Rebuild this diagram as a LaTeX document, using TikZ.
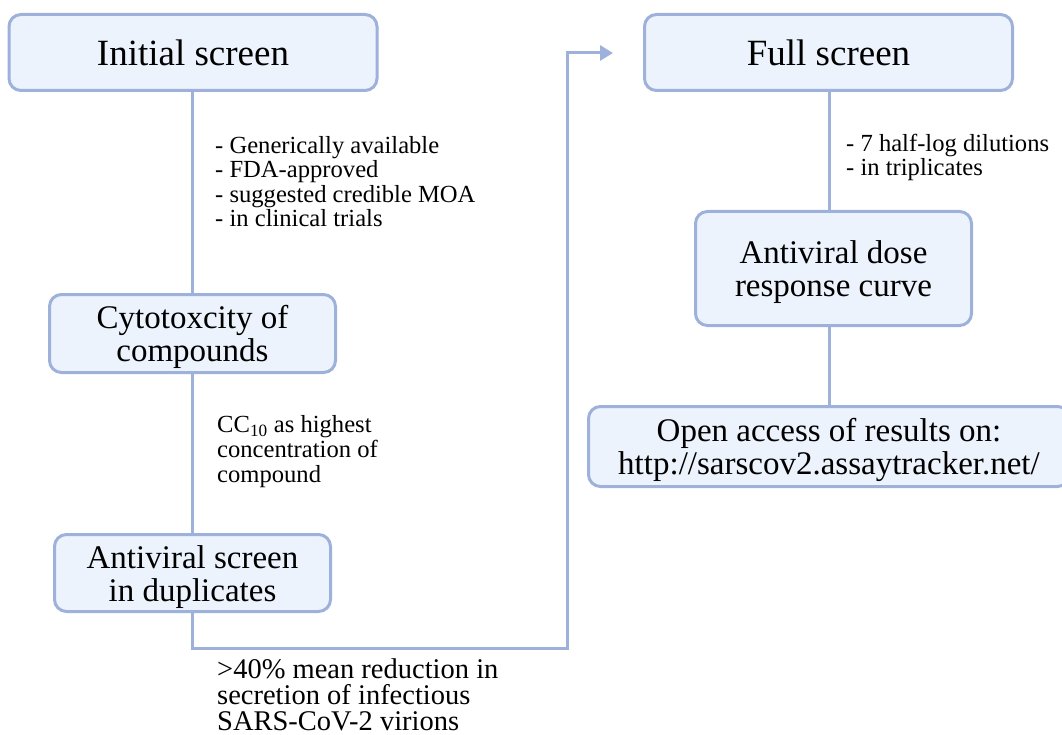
\documentclass[tikz,border=0pt]{standalone}
\usepackage{fontspec}
\setmainfont{Liberation Serif}
\usetikzlibrary{arrows.meta}
\definecolor{edge}{HTML}{9DB1DB}
\definecolor{boxfill}{HTML}{ECF3FC}
\tikzset{
  box/.style={draw=edge, fill=boxfill, line width=3pt, rounded corners=12pt,
    align=center, inner sep=0pt},
  twoline/.style={text height=63pt, text depth=6.6pt},
  conn/.style={draw=edge, line width=3pt},
  note/.style={align=left, inner sep=0pt, anchor=base west},
}
\newcommand{\fs}[2]{\fontsize{#1}{#2}\selectfont}
\begin{document}
\begin{tikzpicture}[x=1pt,y=-1pt]
\useasboundingbox (0,0) rectangle (1062,735);
\node[box, minimum width=368pt, minimum height=76pt, font=\fs{37}{37}] (init) at (193,52.5) {Initial screen};
\node[box, minimum width=368pt, minimum height=76pt, font=\fs{37}{37}] (full) at (828.5,52.5) {Full screen};
\node[box, twoline, minimum width=286pt, minimum height=78pt, font=\fs{33}{33}] (cyto) at (192.5,333.5) {Cytotoxcity of\\compounds};
\node[box, twoline, minimum width=276pt, minimum height=77pt, font=\fs{33}{33}] (avs) at (192.5,573) {Antiviral screen\\in duplicates};
\node[box, twoline, minimum width=276pt, minimum height=114pt, font=\fs{33}{33}] (dose) at (833.5,268.5) {Antiviral dose\\response curve};
\node[box, twoline, minimum width=481pt, minimum height=80pt, font=\fs{33}{33}] (open) at (829,446.5) {Open access of results on:\\http://sarscov2.assaytracker.net/};

\node[note, font=\fs{24.6}{24.6}] (n1) at (215,227) {- Generically available\\- FDA-approved\\- suggested credible MOA\\- in clinical trials};
\node[note, font=\fs{24.6}{24.6}] (n2) at (217,482) {CC\textsubscript{10} as highest\\concentration of\\compound};
\node[note, font=\fs{24.6}{24.6}] (n3) at (846,176) {- 7 half-log dilutions\\- in triplicates};
\node[note, font=\fs{28.5}{26}] (n4) at (217,730) {>40\% mean reduction in\\secretion of infectious\\SARS-CoV-2 virions};

\coordinate (c1) at (567,648);
\coordinate (tip) at (613,53);
\draw[conn] (cyto.north |- init.south) -- (cyto.north);
\draw[conn] (cyto.south) -- (avs.north);
\draw[conn] (open.north |- full.south) -- (open.north |- dose.north);
\draw[conn] (open.north |- dose.south) -- (open.north);
\draw[conn, -{Triangle[length=13pt,width=15pt]}] (avs.south) |- (c1) |- (tip);
\end{tikzpicture}
\end{document}
